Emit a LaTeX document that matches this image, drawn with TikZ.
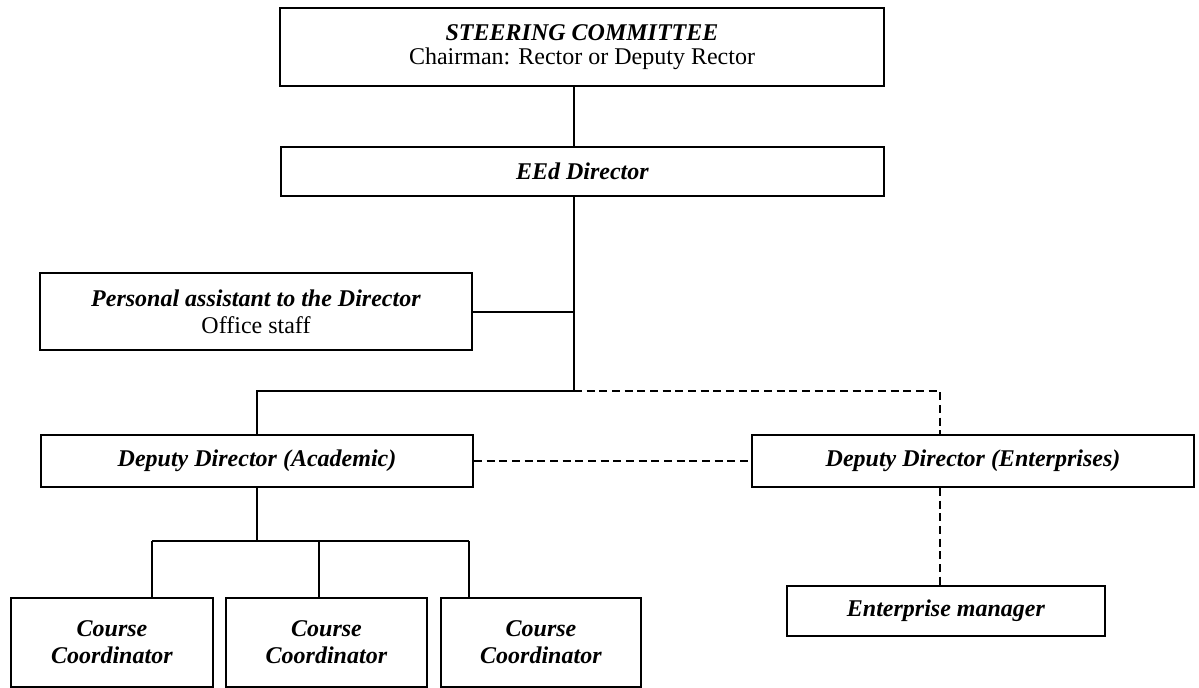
\documentclass[tikz,border=0pt]{standalone}
\usepackage{fontspec}
\setmainfont{Liberation Serif}
\usepackage{tikz}
\usetikzlibrary{positioning}
\newcommand{\hdtxt}[1]{\textbf{\textit{#1}}}
\tikzset{
  box/.style ={draw=black,line width=1.5pt,inner sep=2pt,align=center,
               font=\fontsize{18}{20}\selectfont},
  ln/.style  ={draw=black,line width=1.5pt},
  dln/.style ={ln,dash pattern=on 6pt off 3.5pt},
}
\begin{document}
\begin{tikzpicture}[x=0.75pt,y=-0.75pt]
\useasboundingbox (0,0) rectangle (1199,688);

%% ================= top of the chart =====================================
\node[box,minimum width=453pt,minimum height=58.5pt] (sc) at (582,47)
  {\hdtxt{STEERING COMMITTEE}\\[-2pt]Chairman: Rector or Deputy Rector};
\node[box,minimum width=452.25pt,minimum height=36.75pt] (dir) at (582.5,171.5)
  {\hdtxt{EEd Director}};
\node[box,minimum width=324pt,minimum height=57.75pt] (pa) at (256,311.5)
  {\hdtxt{Personal assistant to the Director}\\Office staff};

%% ================= deputies =============================================
\node[box,minimum width=324pt,minimum height=39pt] (dda) at (257,461)
  {\hdtxt{Deputy Director (Academic)}};
\node[box,minimum width=331.5pt,minimum height=39pt] (dde) at (973,461)
  {\hdtxt{Deputy Director (Enterprises)}};

%% ================= bottom row ===========================================
\foreach \n/\x/\w in {cc1/112/151.5, cc2/326.5/150.75, cc3/541/150}{
  \node[box,minimum width=\w pt,minimum height=66.75pt] (\n) at (\x,642.5)
    {\hdtxt{Course}\\\hdtxt{Coordinator}};}
\node[box,minimum width=238.5pt,minimum height=37.5pt] (em) at (946,611)
  {\hdtxt{Enterprise manager}};

%% ================= connectors ===========================================
% the spine is off the box centres, so it gets its own coordinates
\coordinate (spine) at (574,0);
\coordinate (br)    at (574,391);
\coordinate (ebr)   at (940,391);
\coordinate (c1)    at (152,541);
\coordinate (c2)    at (319,541);
\coordinate (c3)    at (469,541);

\draw[ln] (sc.south -| spine) -- (dir.north -| spine);
\draw[ln] (dir.south -| spine) -- (br);
\draw[ln] (pa.east) -- (pa.east -| spine);
\draw[ln] (br) -| (dda.north);
\draw[dln] (br) -- (ebr) -- (ebr |- dde.north);
\draw[dln] (dda.east) -- (dde.west);

\draw[ln] (dda.south) -- (dda.south |- c1);
\draw[ln] (c1) -- (c3);
\foreach \c/\n in {c1/cc1, c2/cc2, c3/cc3}
  \draw[ln] (\c) -- (\c |- \n.north);
\draw[dln] (dde.south -| ebr) -- (ebr |- em.north);

\end{tikzpicture}
\end{document}
